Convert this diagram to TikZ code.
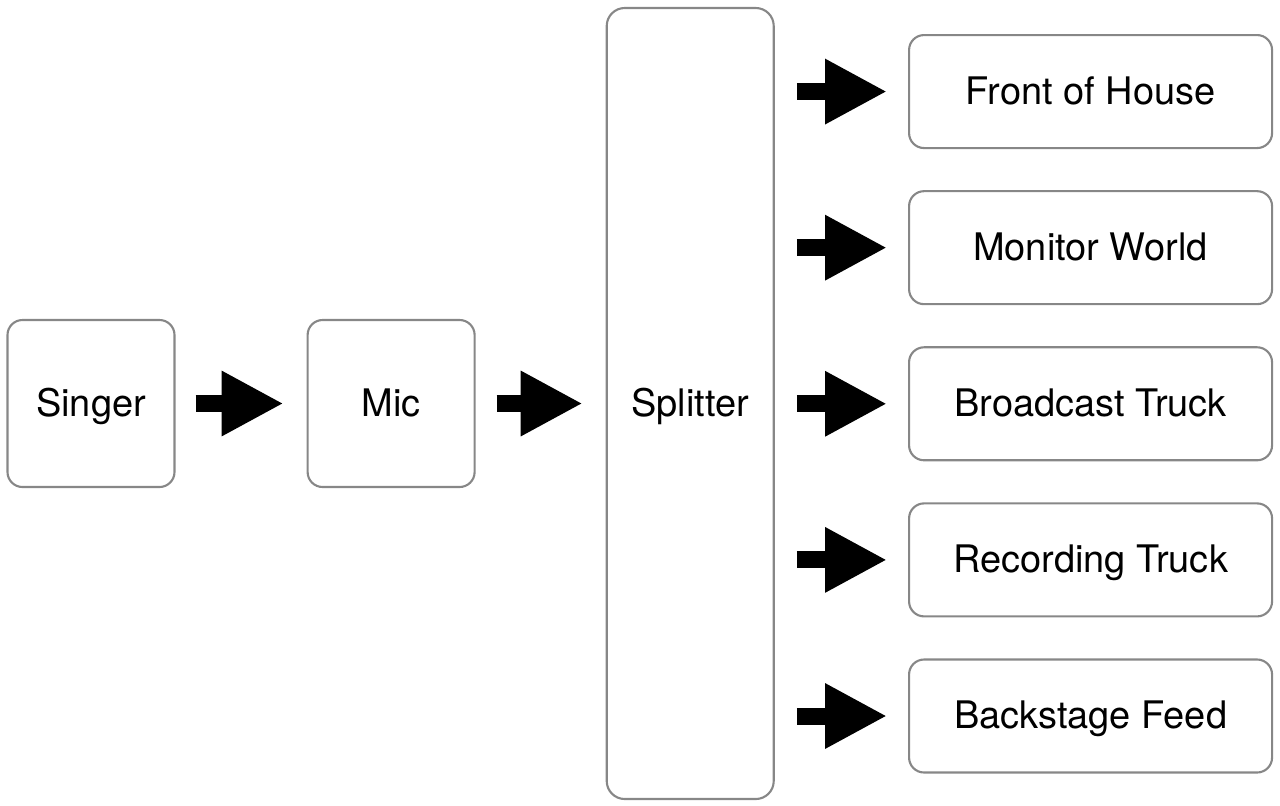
\documentclass[tikz,border=0pt]{standalone}
\usepackage{fontspec}
\setmainfont{TeX Gyre Heros}
\usetikzlibrary{arrows.meta, positioning}
\definecolor{boxgray}{RGB}{135,135,135}

\begin{document}
\begin{tikzpicture}[
      node distance=1.31cm,
      box/.style={draw=boxgray, line width=0.6pt, rounded corners=0.15cm,
                  minimum width=1.67cm, minimum height=1.67cm, align=center,
                  text height=0.72em, text depth=0pt,
                  font=\fontsize{10.8}{13}\selectfont},
      dest/.style={box, minimum width=3.63cm, minimum height=1.13cm},
      arr/.style={-{Triangle[length=0.62cm, width=0.61cm]}, line width=0.17cm, color=black}
  ]
    \useasboundingbox (0,0) rectangle (12.8,-8.05);

    \node[box] (singer) at (0.91,-4.035) {Singer};
    \node[box, right=of singer] (mic) {Mic};
    \node[box, right=1.30cm of mic, minimum height=7.91cm, rounded corners=0.18cm] (split) {Splitter};

    \node[dest, anchor=north west] (foh) at (9.08,-0.34) {Front of House};
    \node[dest, below=0.41cm of foh]   (mon)   {Monitor World};
    \node[dest, below=0.41cm of mon]   (bcast) {Broadcast Truck};
    \node[dest, below=0.41cm of bcast] (rec)   {Recording Truck};
    \node[dest, below=0.41cm of rec]   (back)  {Backstage Feed};

    \draw[arr, shorten <=0.20cm, shorten >=0.23cm] (singer) -- (mic);
    \draw[arr, shorten <=0.21cm, shorten >=0.23cm] (mic) -- (split);

    % one feed per destination
    \foreach \d in {foh, mon, bcast, rec, back}
      \draw[arr, shorten <=0.22cm, shorten >=0.21cm] (split.east |- \d) -- (\d);
  \end{tikzpicture}
\end{document}
